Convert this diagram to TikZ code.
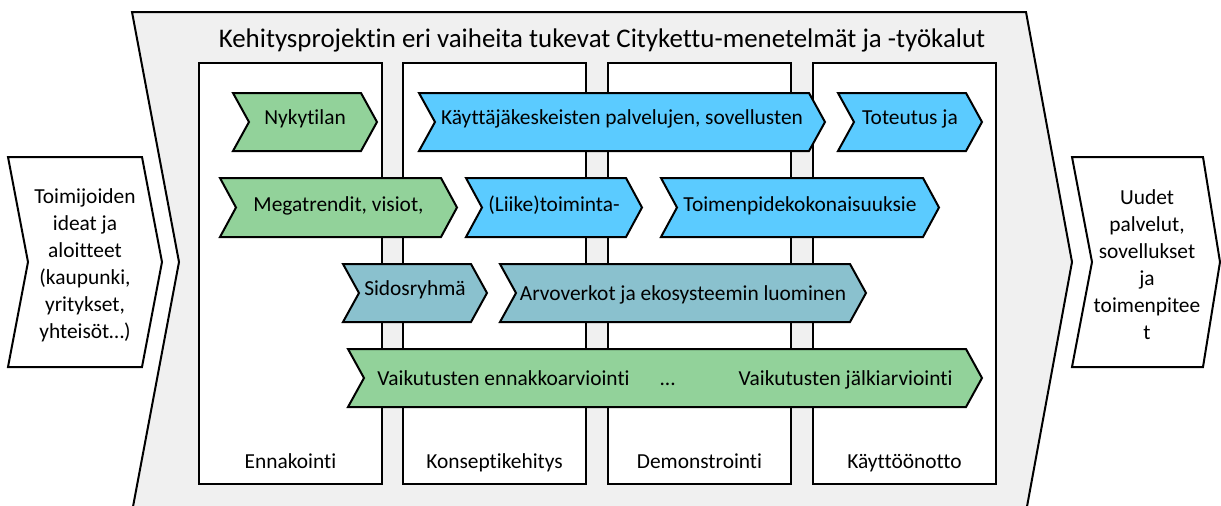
\documentclass[tikz,border=0pt]{standalone}
\usepackage{fontspec}
\setmainfont{Carlito}[Ligatures=NoCommon]
\definecolor{bggray}{HTML}{F0F0F0}
\definecolor{chgreen}{HTML}{92D29A}
\definecolor{chblue}{HTML}{5BCBFF}
\definecolor{chteal}{HTML}{8AC1CE}
\tikzset{
  edge/.style={draw=black, line width=2pt, line join=miter},
  colbox/.style={edge, fill=white},
  chev/.style={edge},
  txt/.style={font=\fontsize{21.4}{27}\selectfont, inner sep=0pt},
  ttl/.style={font=\fontsize{26.9}{32}\selectfont, inner sep=0pt},
}
% #1 name, #2 x1, #3 x2, #4 y1, #5 y2, #6 fill, #7 text, #8 baseline offset
\newcommand\mychev[8]{%
  \path[chev, fill=#6] ({#2},{#4}) -- ({#3-16},{#4}) -- ({#3},{(#4+#5)/2}) -- ({#3-16},{#5})
     -- ({#2},{#5}) -- ({#2+16},{(#4+#5)/2}) -- cycle;
  \node[txt, anchor=base] (#1) at ({(#2+#3)/2},{(#4+#5)/2+#8}) {#7};
}
\begin{document}
\begin{tikzpicture}[x=1pt,y=-1pt]
\useasboundingbox (0,0) rectangle (1221,506);
\fill[white] (0,0) rectangle (1221,506);
\begin{scope}
  \clip (0,0) rectangle (1221,506);
  \path[edge, fill=bggray] (132,12) -- (1026,12) -- (1072,262) -- (1026,512)
     -- (132,512) -- (179,262) -- cycle;
\end{scope}
\node[ttl, anchor=base] (title) at (602,47) {Kehitysprojektin eri vaiheita tukevat Citykettu-menetelmät ja -työkalut};
% columns
\path[colbox] (199,63) rectangle (382,484);
\path[colbox] (403,63) rectangle (586,484);
\path[colbox] (608,63) rectangle (791,484);
\path[colbox] (813,63) rectangle (996,484);
\node[txt, anchor=base] (c1) at (290.5,468) {Ennakointi};
\node[txt, anchor=base] (c2) at (494.5,468) {Konseptikehitys};
\node[txt, anchor=base] (c3) at (699.5,468) {Demonstrointi};
\node[txt, anchor=base] (c4) at (904.5,468) {Käyttöönotto};
% input / output
\path[edge, fill=white] (8,157) -- (142,157) -- (162,262) -- (142,367) -- (8,367) -- (28,262) -- cycle;
\node[txt, align=center] (inp) at (85,265) {Toimijoiden\\ideat ja\\aloitteet\\(kaupunki,\\yritykset,\\yhteisöt…)};
\path[edge, fill=white] (1072,157) -- (1203,157) -- (1220,262) -- (1203,367) -- (1072,367) -- (1092,262) -- cycle;
\node[txt, align=center] (outp) at (1147,265) {Uudet\\palvelut,\\sovellukset\\ja\\toimenpitee\\t};
% chevrons row 1
\mychev{nyk}{233}{377}{93}{151}{chgreen}{Nykytilan}{2}
\mychev{kay}{419}{825}{93}{151}{chblue}{Käyttäjäkeskeisten palvelujen, sovellusten}{2}
\mychev{tot}{838}{982}{93}{151}{chblue}{Toteutus ja}{2}
% row 2
\mychev{meg}{220}{457}{178}{237}{chgreen}{Megatrendit, visiot,}{4}
\mychev{lii}{466}{642}{178}{237}{chblue}{(Liike)toiminta-}{4}
\mychev{toi}{661}{939}{178}{237}{chblue}{Toimenpidekokonaisuuksie}{4}
% row 3
\mychev{sid}{343}{487}{264}{322}{chteal}{Sidosryhmä}{2}
\mychev{arv}{500}{866}{264}{322}{chteal}{Arvoverkot ja ekosysteemin luominen}{7}
% row 4
\mychev{vai}{348}{982}{349}{407}{chgreen}{Vaikutusten ennakkoarviointi\hspace{30pt}...\hspace{63pt}Vaikutusten jälkiarviointi}{7}
\end{tikzpicture}
\end{document}
